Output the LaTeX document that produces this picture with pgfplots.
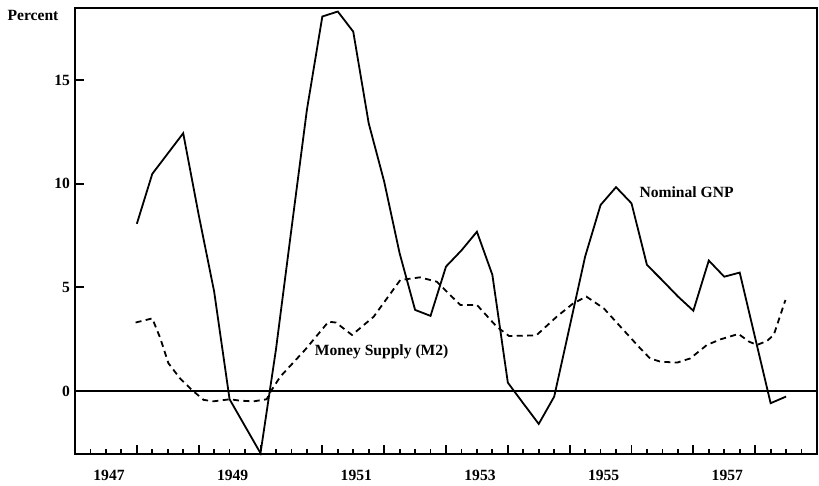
\documentclass[border=0pt]{standalone}
\usepackage{pgfplots}
\pgfplotsset{compat=1.18}
\usepackage{fontspec}
\setmainfont{Liberation Serif}
\newcommand{\lf}{\fontsize{7.8}{9}\selectfont\bfseries}
\begin{document}
\begin{tikzpicture}
\begin{axis}[
  scale only axis,
  width=371pt, height=223pt,
  xmin=1947, xmax=1959,
  ymin=-3.04, ymax=18.47,
  axis line style={line width=1pt},
  tick align=inside,
  xtick pos=bottom, ytick pos=left,
  xtick={1947,...,1959},
  xticklabels={},
  minor xtick={1947.25,1947.5,...,1959},
  major tick length=4.5pt, minor tick length=2.5pt,
  ytick={0,5,10,15},
  tick style={line width=0.9pt, black},
  extra x ticks={1947.55,1949.55,1951.55,1953.55,1955.55,1957.55},
  extra x tick labels={1947,1949,1951,1953,1955,1957},
  extra x tick style={major tick length=0pt, xticklabel style={yshift=-4.5pt}},
  /pgf/number format/assume math mode=true,
  tick label style={font=\lf},
  yticklabel style={xshift=1pt},
  clip=false,
]
\addplot[black, line width=0.7pt] coordinates {(1947,0) (1959,0)};
% Nominal GNP
\addplot[black, line width=0.9pt] coordinates {
(1948.00,8.06) (1948.25,10.47) (1948.50,11.45) (1948.75,12.43)
(1949.00,8.5) (1949.25,4.8) (1949.50,-0.4) (1949.75,-1.7)
(1950.00,-3.0) (1950.25,2.0) (1950.50,7.8) (1950.75,13.55)
(1951.00,18.06) (1951.25,18.3) (1951.50,17.33) (1951.75,12.91)
(1952.00,10.1) (1952.25,6.64) (1952.50,3.91) (1952.75,3.62)
(1953.00,6.0) (1953.25,6.78) (1953.50,7.68) (1953.75,5.6)
(1954.00,0.4) (1954.25,-0.6) (1954.50,-1.59) (1954.75,-0.27)
(1955.00,3.1) (1955.25,6.48) (1955.50,8.97) (1955.75,9.83)
(1956.00,9.05) (1956.25,6.08) (1956.50,5.33) (1956.75,4.56)
(1957.00,3.87) (1957.25,6.29) (1957.50,5.51) (1957.75,5.71)
(1958.00,2.56) (1958.25,-0.59) (1958.50,-0.27)
};
% Money supply (M2)
\addplot[black, line width=0.9pt, dash pattern=on 3pt off 2.2pt] coordinates {
(1947.98,3.3) (1948.25,3.5) (1948.38,2.54) (1948.51,1.34) (1948.70,0.6)
(1948.89,0.05) (1949.08,-0.43) (1949.24,-0.5) (1949.51,-0.4) (1949.67,-0.47)
(1949.89,-0.5) (1950.10,-0.4) (1950.17,0.0) (1950.32,0.69) (1950.72,1.98)
(1951.10,3.34) (1951.22,3.3) (1951.48,2.7) (1951.83,3.58) (1952.26,5.35)
(1952.58,5.48) (1952.85,5.27) (1953.23,4.15) (1953.50,4.15) (1953.82,3.1)
(1954.02,2.65) (1954.46,2.68) (1954.79,3.58) (1955.06,4.23) (1955.27,4.55)
(1955.55,3.99) (1955.87,2.94) (1956.14,2.06) (1956.30,1.57) (1956.47,1.41)
(1956.74,1.37) (1956.95,1.57) (1957.22,2.22) (1957.44,2.49) (1957.73,2.75)
(1957.90,2.38) (1958.03,2.22) (1958.19,2.41) (1958.30,2.7) (1958.49,4.39)
};
\node[font=\lf] at (axis cs:1956.89,9.6) {Nominal GNP};
\node[font=\lf] at (axis cs:1951.96,1.9) {Money Supply (M2)};
\node[font=\lf, xshift=-21pt, yshift=-3.5pt] at (rel axis cs:0,1) {Percent};
\end{axis}
\pgfresetboundingbox
\path[use as bounding box] ([shift={(-37.5pt,-16pt)}]current axis.south west) rectangle ([shift={(1pt,4pt)}]current axis.north east);
\end{tikzpicture}
\end{document}
